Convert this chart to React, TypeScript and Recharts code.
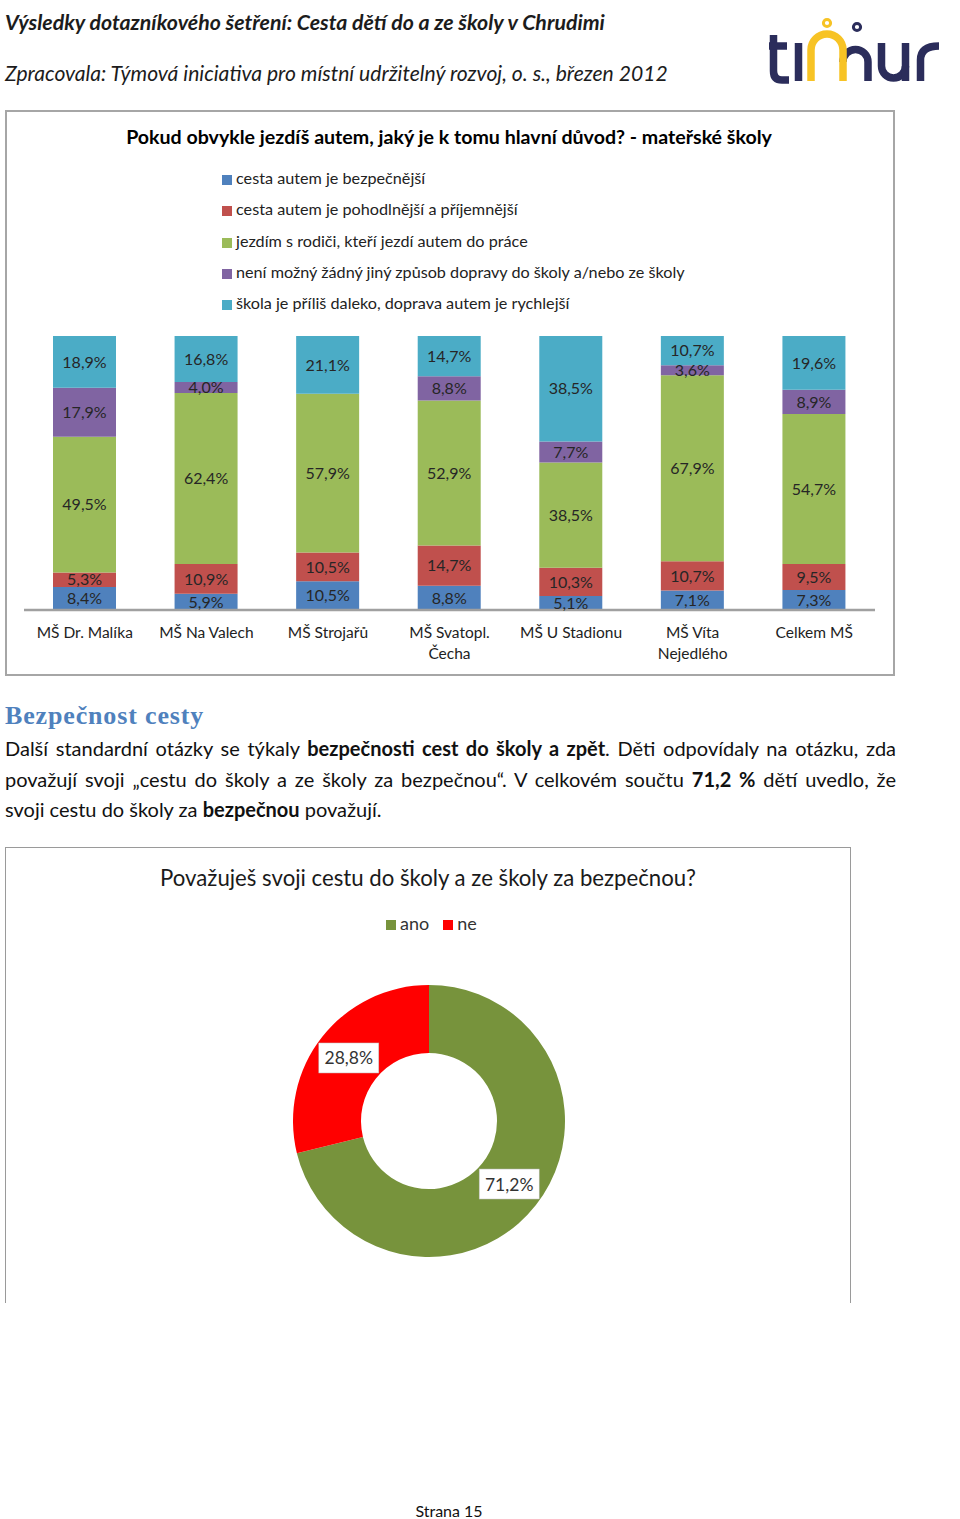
import React from 'react'
import { BarChart, Bar, XAxis, YAxis, LabelList, PieChart, Pie, Cell } from 'recharts'

// mateřské školy – hlavní důvod jízdy autem (v %)
const schools = [
  'MŠ Dr. Malíka',
  'MŠ Na Valech',
  'MŠ Strojařů',
  'MŠ Svatopl.\nČecha',
  'MŠ U Stadionu',
  'MŠ Víta\nNejedlého',
  'Celkem MŠ',
]
const safer = [8.4, 5.9, 10.5, 8.8, 5.1, 7.1, 7.3]
const comfier = [5.3, 10.9, 10.5, 14.7, 10.3, 10.7, 9.5]
const withParents = [49.5, 62.4, 57.9, 52.9, 38.5, 67.9, 54.7]
const noOther = [17.9, 4.0, 0.0, 8.8, 7.7, 3.6, 8.9]
const tooFar = [18.9, 16.8, 21.1, 14.7, 38.5, 10.7, 19.6]

const reasonLabels = [
  'cesta autem  je bezpečnější',
  'cesta autem  je pohodlnější a příjemnější',
  'jezdím s rodiči, kteří jezdí autem do práce',
  'není možný žádný jiný způsob dopravy do školy a/nebo ze školy',
  'škola je příliš daleko, doprava autem je rychlejší',
]
const reasonKeys = ['safer', 'comfier', 'withParents', 'noOther', 'tooFar']
const reasonColors = ['#4F81BD', '#C0504D', '#9BBB59', '#8064A2', '#4BACC6']

// bezpečnost cesty
const answers = ['ano', 'ne']
const answerShares = [71.2, 28.8]
const answerColors = ['#77933C', '#FF0000']

const barData = schools.map((name, i) => ({
  name,
  safer: safer[i],
  comfier: comfier[i],
  withParents: withParents[i],
  noOther: noOther[i],
  tooFar: tooFar[i],
}))

const pieData = answers.map((name, i) => ({ name, value: answerShares[i] }))

const FONT = 'Lato, "Open Sans", sans-serif'
const fmt = (v: any) => Number(v).toFixed(1).replace('.', ',') + '%'

const SchoolTick = ({ x, y, payload }: any) => {
  const lines = String(payload.value).split('\n')
  return (
    <text x={x} y={y} textAnchor="middle" fill="#222" fontSize={15.5} fontFamily={FONT}>
      {lines.map((l, i) => (
        <tspan key={i} x={x} dy={i === 0 ? 28 : 21}>
          {l}
        </tspan>
      ))}
    </text>
  )
}

const RADIAN = Math.PI / 180
const ShareLabel = ({ cx, cy, midAngle, innerRadius, outerRadius, value }: any) => {
  const r = (innerRadius + outerRadius) / 2
  const x = cx + r * Math.cos(-midAngle * RADIAN)
  const y = cy + r * Math.sin(-midAngle * RADIAN)
  return (
    <g>
      <rect x={x - 30} y={y - 15} width={60} height={30} fill="#fff" stroke="#bbb" strokeWidth={0.5} />
      <text x={x} y={y} textAnchor="middle" dominantBaseline="central" fill="#333" fontSize={17.5} fontFamily={FONT}>
        {fmt(value)}
      </text>
    </g>
  )
}

const Logo = () => (
  <svg
    style={{ position: 'absolute', left: 765, top: 10 }}
    width={180}
    height={80}
    viewBox="765 10 180 80"
  >
    <g fill="none" stroke="#2B2D5B" strokeWidth={7.5}>
      <path d="M773.5 35 V71 Q773.5 80 782 80 H789" />
      <path d="M769 46 H787" />
      <path d="M798.5 43 V81" />
      <path d="M843 62 A12.5 12.5 0 0 1 868 62 V81" />
      <circle cx={857} cy={27} r={3.6} strokeWidth={3} />
      <path d="M881.5 43 V66 A12 12 0 0 0 905.5 66" />
      <path d="M905.5 43 V81" />
      <path d="M920.5 81 V60 Q920.5 46 939 46" />
    </g>
    <g fill="none" stroke="#F7C325" strokeWidth={7.5}>
      <path d="M811 81 V50 A16 16 0 0 1 843 50 V81" />
      <circle cx={827} cy={23} r={3.6} strokeWidth={3} />
    </g>
  </svg>
)

const abs = (left: number, top: number, extra: React.CSSProperties = {}): React.CSSProperties => ({
  position: 'absolute',
  left,
  top,
  whiteSpace: 'nowrap',
  fontFamily: FONT,
  ...extra,
})

export default function App() {
  return (
    <div style={{ position: 'absolute', left: 0, top: 0, width: 960, height: 1519, background: '#fff', overflow: 'hidden' }}>
      {/* hlavička */}
      <div style={abs(5, 8, { fontSize: 21.3, fontStyle: 'italic', fontWeight: 700, color: '#1c1c1c', lineHeight: '28px' })}>
        Výsledky dotazníkového šetření: Cesta dětí do a ze školy v Chrudimi
      </div>
      <div style={abs(5, 59, { fontSize: 21.1, fontStyle: 'italic', color: '#1c1c1c', lineHeight: '28px' })}>
        Zpracovala: Týmová iniciativa pro místní udržitelný rozvoj, o. s., březen 2012
      </div>
      <Logo />

      {/* graf 1 */}
      <div
        style={{
          position: 'absolute',
          left: 5,
          top: 110,
          width: 890,
          height: 566,
          border: '2px solid #A6A6A6',
          boxSizing: 'border-box',
        }}
      />
      <div style={abs(0, 123, { width: 898, textAlign: 'center', fontSize: 19.6, fontWeight: 700, color: '#000', lineHeight: '28px' })}>
        Pokud obvykle jezdíš autem, jaký je k tomu hlavní důvod? - mateřské školy
      </div>
      {reasonLabels.map((label, i) => (
        <div key={label} style={abs(222, 167 + i * 31.3, { fontSize: 16.2, color: '#222', lineHeight: '22px' })}>
          <span
            style={{
              display: 'inline-block',
              width: 10,
              height: 10,
              background: reasonColors[i],
              marginRight: 4,
              verticalAlign: '-1px',
            }}
          />
          {label}
        </div>
      ))}
      <div style={{ position: 'absolute', left: 0, top: 320 }}>
        <BarChart
          width={900}
          height={360}
          data={barData}
          stackOffset="expand"
          margin={{ top: 16, right: 25, bottom: 0, left: 24 }}
          barSize={63}
        >
          <XAxis
            dataKey="name"
            height={70}
            interval={0}
            tickLine={false}
            tickSize={0}
            tickMargin={0}
            axisLine={{ stroke: '#A0A0A0', strokeWidth: 2.5 }}
            tick={<SchoolTick />}
          />
          <YAxis hide domain={[0, 1]} />
          {reasonKeys.map((key, i) => (
            <Bar key={key} dataKey={key} stackId="a" fill={reasonColors[i]} isAnimationActive={false}>
              <LabelList
                dataKey={key}
                position="center"
                formatter={fmt}
                fill="#262626"
                fontSize={16}
                fontFamily={FONT}
              />
            </Bar>
          ))}
        </BarChart>
      </div>

      {/* text */}
      <div
        style={abs(5, 700, {
          fontFamily: '"Liberation Serif", serif',
          fontWeight: 700,
          fontSize: 26,
          letterSpacing: 0.85,
          color: '#4F81BD',
          lineHeight: '32px',
        })}
      >
        Bezpečnost cesty
      </div>
      {[
        <>
          Další standardní otázky se týkaly <b>bezpečnosti cest do školy a zpět</b>. Děti odpovídaly na otázku, zda
        </>,
        <>
          považují svoji „cestu do školy a ze školy za bezpečnou“. V celkovém součtu <b>71,2 %</b> dětí uvedlo, že
        </>,
        <>
          svoji cestu do školy za <b>bezpečnou</b> považují.
        </>,
      ].map((line, i) => (
        <div
          key={i}
          style={abs(5, 734 + i * 30.5, {
            width: 891,
            fontSize: 20,
            color: '#111',
            lineHeight: '28px',
            whiteSpace: 'normal',
            textAlign: 'justify',
            textAlignLast: i < 2 ? 'justify' : 'left',
          })}
        >
          {line}
        </div>
      ))}

      {/* graf 2 */}
      <div
        style={{
          position: 'absolute',
          left: 5,
          top: 847,
          width: 846,
          height: 456,
          borderTop: '1.5px solid #9A9A9A',
          borderLeft: '1.5px solid #9A9A9A',
          borderRight: '1.5px solid #9A9A9A',
          boxSizing: 'border-box',
        }}
      />
      <div style={abs(5, 863, { width: 846, textAlign: 'center', fontSize: 22.2, color: '#1a1a1a', lineHeight: '30px' })}>
        Považuješ svoji cestu do školy a ze školy za bezpečnou?
      </div>
      <div style={abs(386, 911, { fontSize: 18, color: '#333', lineHeight: '24px' })}>
        {answers.map((a, i) => (
          <span key={a} style={{ marginRight: 14 }}>
            <span
              style={{
                display: 'inline-block',
                width: 10,
                height: 10,
                background: answerColors[i],
                marginRight: 4,
                verticalAlign: '0px',
              }}
            />
            {a}
          </span>
        ))}
      </div>
      <div style={{ position: 'absolute', left: 5, top: 847 }}>
        <PieChart width={846} height={456}>
          <Pie
            data={pieData}
            dataKey="value"
            nameKey="name"
            cx={419}
            cy={269}
            innerRadius={68}
            outerRadius={136}
            startAngle={90}
            endAngle={-270}
            stroke="none"
            labelLine={false}
            label={<ShareLabel />}
            isAnimationActive={false}
          >
            {pieData.map((d, i) => (
              <Cell key={d.name} fill={answerColors[i]} />
            ))}
          </Pie>
        </PieChart>
      </div>

      <div style={abs(0, 1500, { width: 898, textAlign: 'center', fontSize: 16, color: '#111', lineHeight: '22px' })}>
        Strana 15
      </div>
    </div>
  )
}
